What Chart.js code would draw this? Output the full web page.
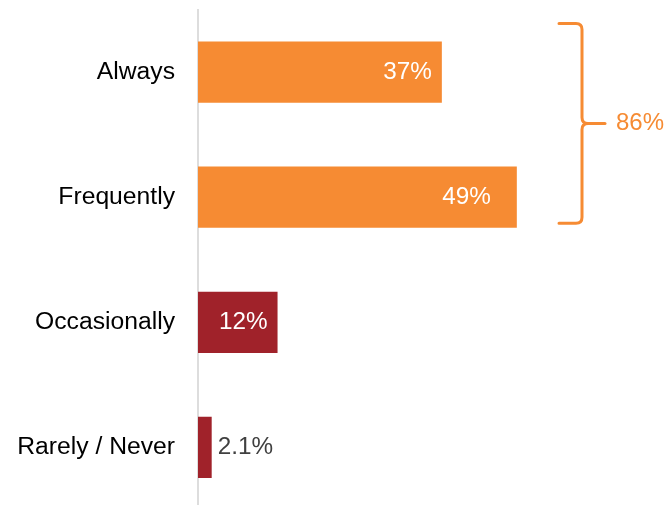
<!DOCTYPE html>
<html><head><meta charset="utf-8">
<script src="https://cdn.jsdelivr.net/npm/chart.js@4/dist/chart.umd.min.js"></script>
<style>html,body{margin:0;padding:0;overflow:hidden;background:#fff}#wrap{width:669px;height:510px;position:relative}</style>
</head><body><div id="wrap"><canvas id="c"></canvas></div>
<script>
const categories = ['Always', 'Frequently', 'Occasionally', 'Rarely / Never'];
const values = [37.4, 48.9, 12.2, 2.1];
const valueLabels = ['37%', '49%', '12%', '2.1%'];
const groupLabel = '86%';

const ORANGE = '#F68B33';
const RED = '#A0222A';
const FONT = "'Liberation Sans', Arial, sans-serif";

const labelPlugin = {
  id: 'valueLabels',
  afterDatasetsDraw(chart) {
    const ctx = chart.ctx;
    const meta = chart.getDatasetMeta(0);
    ctx.save();
    ctx.font = '24.3px ' + FONT;
    ctx.textBaseline = 'middle';
    meta.data.forEach((bar, i) => {
      const v = values[i];
      if (v < 5) {
        ctx.fillStyle = '#404040';
        ctx.textAlign = 'left';
        ctx.fillText(valueLabels[i], bar.x + 6, bar.y);
      } else {
        ctx.fillStyle = '#ffffff';
        ctx.textAlign = 'right';
        const gap = (i === 1) ? 26 : 10;
        ctx.fillText(valueLabels[i], bar.x - gap, bar.y);
      }
    });
    ctx.restore();
  }
};

const bracePlugin = {
  id: 'brace',
  afterDatasetsDraw(chart) {
    const ctx = chart.ctx;
    const ys = chart.scales.y;
    const top = ys.getPixelForValue(0) - 48.5;
    const bottom = ys.getPixelForValue(1) + 26;
    const mid = (top + bottom) / 2;
    const xv = 582, xl = 559, xt = 605, r = 6;
    ctx.save();
    ctx.strokeStyle = ORANGE;
    ctx.lineWidth = 3;
    ctx.lineCap = 'round';
    ctx.lineJoin = 'round';
    ctx.beginPath();
    ctx.moveTo(xl, top);
    ctx.lineTo(xv - r, top);
    ctx.quadraticCurveTo(xv, top, xv, top + r);
    ctx.lineTo(xv, mid - r);
    ctx.quadraticCurveTo(xv, mid, xv + r, mid);
    ctx.quadraticCurveTo(xv, mid, xv, mid + r);
    ctx.lineTo(xv, bottom - r);
    ctx.quadraticCurveTo(xv, bottom, xv - r, bottom);
    ctx.lineTo(xl, bottom);
    ctx.stroke();
    ctx.beginPath();
    ctx.moveTo(xv + r, mid);
    ctx.lineTo(xt, mid);
    ctx.stroke();
    ctx.fillStyle = ORANGE;
    ctx.font = '24px ' + FONT;
    ctx.textAlign = 'left';
    ctx.textBaseline = 'middle';
    ctx.fillText(groupLabel, 616, mid);
    ctx.restore();
  }
};

new Chart(document.getElementById('c'), {
  type: 'bar',
  data: {
    labels: categories,
    datasets: [{
      data: values,
      backgroundColor: [ORANGE, ORANGE, RED, RED],
      borderWidth: 0,
      barPercentage: 0.49,
      categoryPercentage: 1
    }]
  },
  options: {
    indexAxis: 'y',
    responsive: true,
    maintainAspectRatio: false,
    animation: false,
    layout: { padding: { top: 9.5, bottom: 0, left: 0, right: 14.6 } },
    plugins: { legend: { display: false }, tooltip: { enabled: false } },
    scales: {
      x: { display: false, min: 0, max: 70 },
      y: {
        afterFit(s) { s.width = 198; s.paddingTop = 0; s.paddingBottom = 0; },
        grid: { display: false, drawTicks: false },
        border: { display: true, color: '#DDDDDD', width: 2 },
        ticks: { color: '#000', padding: 23, font: { family: FONT, size: 24.7 } }
      }
    }
  },
  plugins: [labelPlugin, bracePlugin]
});
</script></body></html>
